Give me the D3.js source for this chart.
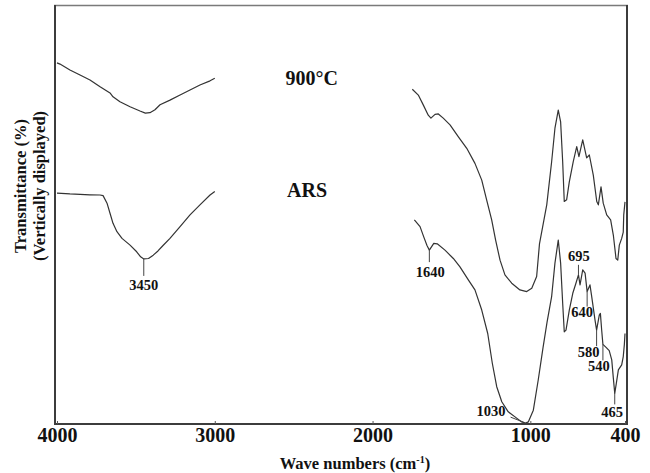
<!DOCTYPE html>
<html>
<head>
<meta charset="utf-8">
<script src="https://cdn.jsdelivr.net/npm/d3@7"></script>
<style>
  html, body { margin: 0; padding: 0; background: #fff; }
  svg { display: block; font-family: "Liberation Serif", "Times New Roman", serif; font-weight: bold; }
</style>
</head>
<body>
<svg id="chart" width="650" height="473"></svg>
<script>
// FT-IR spectra: wavenumber (cm-1) against transmittance (arbitrary units, traces offset vertically)
const xTicks = [4000, 3000, 2000, 1000, 400];
const seriesNames = ["900°C", "ARS"];

// 900°C trace, O–H stretching region
const wn900High = [4000, 3981, 3918, 3854, 3791, 3727, 3664, 3645, 3601, 3537, 3474, 3440, 3411, 3379, 3347, 3284, 3220, 3157, 3094, 3030, 3000];
const t900High  = [86.2, 85.9, 84.5, 83.3, 82.1, 80.5, 79.0, 78.1, 76.9, 75.7, 74.7, 74.2, 74.3, 75.0, 76.2, 77.3, 78.5, 79.7, 80.9, 81.9, 82.5];

// 900°C trace, 1750–400 cm-1
const wn900Low = [1748, 1710, 1678, 1647, 1630, 1604, 1583, 1552, 1509, 1457, 1403, 1351, 1308, 1277, 1245, 1220, 1192, 1161, 1118, 1066, 1023, 991, 960, 942, 896, 865, 844, 823, 808, 795, 785, 770, 753, 728, 706, 692, 668, 643, 626, 601, 579, 569, 552, 538, 516, 491, 474, 457, 446, 436, 421, 411, 408, 400];
const t900Low  = [79.9, 78.5, 76.1, 73.7, 73.0, 73.9, 74.0, 73.0, 71.4, 68.6, 65.8, 62.2, 58.2, 53.5, 48.7, 43.9, 39.1, 35.6, 33.6, 32.0, 31.6, 32.4, 35.2, 43.0, 52.3, 62.6, 70.6, 74.9, 72.1, 62.6, 53.1, 53.5, 57.8, 62.6, 66.2, 63.8, 67.8, 63.5, 64.2, 59.4, 53.1, 52.3, 56.6, 52.7, 49.9, 48.7, 45.1, 39.5, 39.1, 42.7, 44.3, 45.8, 49.9, 53.0];

// ARS trace, O–H stretching region
const wnArsHigh = [4000, 3918, 3854, 3791, 3727, 3708, 3683, 3664, 3645, 3620, 3588, 3537, 3495, 3470, 3450, 3420, 3390, 3360, 3328, 3284, 3220, 3157, 3094, 3030, 3000];
const tArsHigh  = [55.1, 54.9, 54.8, 54.7, 54.65, 54.5, 52.7, 50.3, 47.9, 45.9, 44.3, 42.7, 41.1, 39.9, 39.4, 39.5, 40.3, 41.3, 42.6, 44.3, 47.1, 49.9, 52.3, 54.65, 55.5];

// ARS trace, 1750–400 cm-1
const wnArsLow = [1735, 1699, 1675, 1655, 1640, 1612, 1590, 1541, 1488, 1446, 1393, 1351, 1308, 1270, 1241, 1213, 1181, 1140, 1097, 1055, 1030, 1013, 981, 950, 920, 894, 865, 844, 823, 808, 795, 785, 774, 753, 731, 711, 695, 685, 668, 653, 640, 622, 611, 590, 580, 563, 556, 548, 540, 520, 500, 484, 474, 465, 455, 442, 421, 411, 404, 400];
const tArsLow  = [48.7, 47.1, 44.6, 42.6, 41.5, 43.1, 43.0, 41.5, 39.5, 37.5, 34.4, 32.0, 27.2, 21.6, 14.5, 8.9, 5.3, 2.9, 1.7, 0.5, 0.2, 0.5, 3.3, 10.5, 18.1, 24.3, 30.4, 38.4, 43.9, 38.4, 28.8, 22.0, 22.4, 27.2, 31.2, 33.6, 35.6, 33.2, 36.8, 36.0, 31.6, 33.2, 30.4, 24.8, 22.4, 26.0, 26.4, 22.5, 19.0, 18.3, 17.5, 15.3, 11.0, 7.3, 9.7, 12.9, 14.1, 16.1, 19.0, 21.6];

// Band assignments marked on the ARS trace
const peakWn     = [3450, 1640, 1030, 695, 640, 580, 540, 465];
const peakLabels = ["3450", "1640", "1030", "695", "640", "580", "540", "465"];

// ---- drawing ----
const svg = d3.select("#chart");
const frame = { left: 55, right: 627, top: 5, bottom: 424 };

const x = d3.scaleLinear().domain([4000, 400]).range([57, 625]);
const y = d3.scaleLinear().domain([0, 100]).range([frame.bottom, frame.top]);

const line = d3.line().x(d => x(d[0])).y(d => y(d[1]));

const traces = [
  d3.zip(wn900High, t900High),
  d3.zip(wn900Low, t900Low),
  d3.zip(wnArsHigh, tArsHigh),
  d3.zip(wnArsLow, tArsLow)
];

svg.append("g")
  .selectAll("path")
  .data(traces)
  .join("path")
  .attr("d", line)
  .attr("fill", "none")
  .attr("stroke", "#333")
  .attr("stroke-width", 1.2)
  .attr("stroke-linejoin", "round");

// plot frame
const fr = svg.append("g");
fr.append("line").attr("x1", frame.left - 1).attr("x2", frame.right + 1)
  .attr("y1", frame.top + 0.5).attr("y2", frame.top + 0.5)
  .attr("stroke", "#7a7a7a").attr("stroke-width", 1.3);
fr.append("line").attr("x1", frame.left).attr("x2", frame.left)
  .attr("y1", frame.top).attr("y2", frame.bottom + 1)
  .attr("stroke", "#3c3c3c").attr("stroke-width", 2);
fr.append("line").attr("x1", frame.right).attr("x2", frame.right)
  .attr("y1", frame.top).attr("y2", frame.bottom + 1)
  .attr("stroke", "#3c3c3c").attr("stroke-width", 2);
fr.append("line").attr("x1", frame.left - 1).attr("x2", frame.right + 1)
  .attr("y1", frame.bottom).attr("y2", frame.bottom)
  .attr("stroke", "#3c3c3c").attr("stroke-width", 2);

// x axis
const xAxis = svg.append("g")
  .attr("transform", `translate(0,${frame.bottom})`)
  .call(d3.axisBottom(x).tickValues(xTicks).tickFormat(d3.format("d"))
    .tickSizeInner(-3).tickSizeOuter(0).tickPadding(3.5));
xAxis.select(".domain").remove();
xAxis.selectAll(".tick line").attr("stroke", "#555");
xAxis.selectAll(".tick text")
  .attr("fill", "#111")
  .style("font-family", "'Liberation Serif', 'Times New Roman', serif")
  .style("font-weight", "bold")
  .style("font-size", "20px");

// axis titles
const xTitle = svg.append("text")
  .attr("x", 355).attr("y", 469)
  .attr("text-anchor", "middle")
  .attr("font-size", 16.5)
  .attr("fill", "#111");
xTitle.append("tspan").text("Wave numbers (cm");
xTitle.append("tspan").attr("font-size", 10).attr("dy", -6.5).text("-1");
xTitle.append("tspan").attr("dy", 6.5).text(")");

[["Transmittance (%)", 25.5], ["(Vertically displayed)", 44.5]].forEach(([txt, bx]) => {
  svg.append("text")
    .attr("transform", `translate(${bx},186) rotate(-90)`)
    .attr("text-anchor", "middle")
    .attr("font-size", 16.5)
    .attr("fill", "#111")
    .text(txt);
});

// series names
const nameSpots = [{ wn: 2385, t: 80.9 }, { wn: 2415, t: 54.2 }];
svg.append("g")
  .selectAll("text")
  .data(seriesNames)
  .join("text")
  .attr("x", (d, i) => x(nameSpots[i].wn))
  .attr("y", (d, i) => y(nameSpots[i].t))
  .attr("text-anchor", "middle")
  .attr("font-size", 20)
  .attr("fill", "#111")
  .text(d => d);

// band markers on the ARS trace
function arsValueAt(w) {
  const segs = [[wnArsHigh, tArsHigh], [wnArsLow, tArsLow]];
  for (const [ws, ts] of segs) {
    for (let i = 0; i < ws.length - 1; i++) {
      if (w <= ws[i] && w >= ws[i + 1]) {
        const f = (ws[i] - w) / (ws[i] - ws[i + 1]);
        return ts[i] + f * (ts[i + 1] - ts[i]);
      }
    }
  }
  return null;
}

const markStyle = {
  "3450": { tick: [0, 17], dx: 0, dy: 31, anchor: "middle" },
  "1640": { tick: [0, 12], dx: 1, dy: 27, anchor: "middle" },
  "1030": { leader: [[-15, -6], [-2, -1]], dx: -20, dy: -7, anchor: "end" },
  "695":  { tick: [-10, 0], dx: 0.5, dy: -13.5, anchor: "middle" },
  "640":  { tick: [0, 15], dx: -5, dy: 25.5, anchor: "middle" },
  "580":  { tick: [0, 16], dx: -8, dy: 27, anchor: "middle" },
  "540":  { tick: [0, 16], dx: -4, dy: 27, anchor: "middle" },
  "465":  { tick: [0, 11], dx: -2.5, dy: 23.5, anchor: "middle" }
};

const marks = svg.append("g");
peakWn.forEach((w, i) => {
  const lab = peakLabels[i];
  const s = markStyle[lab];
  const px = x(w), py = y(arsValueAt(w));
  if (s.tick) {
    marks.append("line")
      .attr("x1", px).attr("x2", px)
      .attr("y1", py + s.tick[0]).attr("y2", py + s.tick[1])
      .attr("stroke", "#444").attr("stroke-width", 1);
  }
  if (s.leader) {
    marks.append("line")
      .attr("x1", px + s.leader[0][0]).attr("y1", py + s.leader[0][1])
      .attr("x2", px + s.leader[1][0]).attr("y2", py + s.leader[1][1])
      .attr("stroke", "#444").attr("stroke-width", 1);
  }
  marks.append("text")
    .attr("x", px + s.dx).attr("y", py + s.dy)
    .attr("text-anchor", s.anchor)
    .attr("font-size", 14.5)
    .attr("fill", "#111")
    .text(lab);
});
</script>
</body>
</html>
